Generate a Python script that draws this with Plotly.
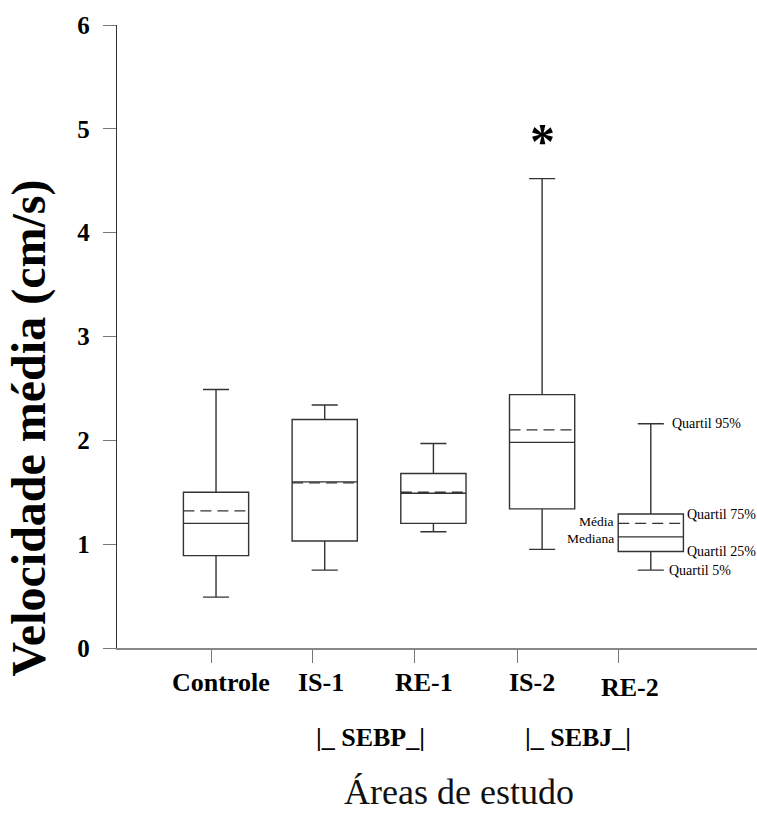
import plotly.graph_objects as go

# Mean flow velocity (cm/s) per study area: 5th/25th/50th/75th/95th percentiles and mean
areas = ["Controle", "IS-1", "RE-1", "IS-2", "RE-2"]
p5 = [0.49, 0.75, 1.12, 0.95, 0.75]
q1 = [0.89, 1.03, 1.20, 1.34, 0.93]
median = [1.20, 1.60, 1.49, 1.98, 1.07]
q3 = [1.50, 2.20, 1.68, 2.44, 1.29]
p95 = [2.49, 2.34, 1.97, 4.52, 2.16]
mean = [1.32, 1.59, 1.50, 2.10, 1.20]

groups = ["|_ SEBP_|", "|_ SEBJ_|"]
y_ticks = [0, 1, 2, 3, 4, 5, 6]

SERIF = "Liberation Serif, Times New Roman, serif"
INK = "#333333"
BOX_W = 0.6

pos = list(range(len(areas)))
tick_pos = [-0.04, 0.89, 1.83, 2.77, 3.70]
label_pos = [0.046, 0.966, 1.914, 2.908, 3.809]

fig = go.Figure()

for i, name in enumerate(areas):
    fig.add_trace(go.Box(
        x=[pos[i]], q1=[q1[i]], median=[median[i]], q3=[q3[i]],
        lowerfence=[p5[i]], upperfence=[p95[i]],
        width=BOX_W, whiskerwidth=0.4,
        fillcolor="rgba(255,255,255,0)",
        line=dict(color=INK, width=1.4),
        boxpoints=False, name=name, showlegend=False,
    ))
    # mean drawn as a dashed line across the box
    fig.add_trace(go.Scatter(
        x=[pos[i] - BOX_W / 2, pos[i] + BOX_W / 2], y=[mean[i], mean[i]],
        mode="lines", line=dict(color=INK, width=1.3, dash="11px,6px"),
        showlegend=False, hoverinfo="skip",
    ))

ann = []
bold = dict(family=SERIF, size=26, color="black", weight="bold")

# category labels under the axis
for i, name in enumerate(areas):
    ann.append(dict(x=label_pos[i], xref="x", y=-0.056 if i < 4 else -0.063, yref="paper",
                    text=name, showarrow=False, font=bold, xanchor="center", yanchor="middle"))

# site groups
ann.append(dict(x=1.42, xref="x", y=-0.143, yref="paper", text=groups[0],
                showarrow=False, font=bold, xanchor="center", yanchor="middle"))
ann.append(dict(x=3.33, xref="x", y=-0.143, yref="paper", text=groups[1],
                showarrow=False, font=bold, xanchor="center", yanchor="middle"))

# axis titles
ann.append(dict(x=-0.137, xref="paper", y=0.353, yref="paper", text="Velocidade média (cm/s)",
                textangle=-90, showarrow=False,
                font=dict(family=SERIF, size=48, color="black", weight="bold"),
                xanchor="center", yanchor="middle"))
ann.append(dict(x=0.535, xref="paper", y=-0.231, yref="paper", text="Áreas de estudo",
                showarrow=False, font=dict(family=SERIF, size=36, color="#111111"),
                xanchor="center", yanchor="middle"))

# significance mark over IS-2
ann.append(dict(x=pos[3], xref="x", y=p95[3], yref="y", text="*", showarrow=False,
                font=dict(family=SERIF, size=50, color="black", weight="bold"),
                xanchor="center", yanchor="middle", yshift=38))

# key annotations on the RE-2 box
small = dict(family=SERIF, size=14, color="black")
key = dict(family=SERIF, size=13.5, color="black")
k = 4
ann += [
    dict(x=pos[k], xref="x", y=p95[k], yref="y", text="Quartil 95%", xanchor="left",
         xshift=19, showarrow=False, font=small, yanchor="middle"),
    dict(x=pos[k] + BOX_W / 2, xref="x", y=q3[k], yref="y", text="Quartil 75%", xanchor="left",
         xshift=2, showarrow=False, font=small, yanchor="middle"),
    dict(x=pos[k] + BOX_W / 2, xref="x", y=q1[k], yref="y", text="Quartil 25%", xanchor="left",
         xshift=2, showarrow=False, font=small, yanchor="middle"),
    dict(x=pos[k], xref="x", y=p5[k], yref="y", text="Quartil 5%", xanchor="left",
         xshift=16, showarrow=False, font=small, yanchor="middle"),
    dict(x=pos[k] - BOX_W / 2, xref="x", y=mean[k], yref="y", text="Média", xanchor="right",
         xshift=-2, yshift=2, showarrow=False, font=key, yanchor="middle"),
    dict(x=pos[k] - BOX_W / 2, xref="x", y=median[k], yref="y", text="Mediana", xanchor="right",
         xshift=-2, yshift=-2, showarrow=False, font=key, yanchor="middle"),
]

fig.update_layout(
    width=757, height=814,
    margin=dict(l=117, r=0, t=25, b=166),
    paper_bgcolor="white", plot_bgcolor="white",
    annotations=ann,
    xaxis=dict(range=[-0.911, 4.977], tickvals=tick_pos, ticktext=[""] * len(tick_pos),
               ticks="outside", ticklen=13, tickcolor="#777777", tickwidth=1.2,
               showline=True, linecolor="#888888", linewidth=1.6,
               showgrid=False, zeroline=False, fixedrange=True),
    yaxis=dict(range=[0, 6], tickvals=y_ticks, ticks="outside", ticklen=13,
               tickcolor="#777777", tickwidth=1.2,
               showline=True, linecolor="#333333", linewidth=1.4,
               showgrid=False, zeroline=False,
               tickfont=dict(family=SERIF, size=25, color="black", weight="bold"),
               ticklabelstandoff=8),
)

fig.write_html("out.html")
